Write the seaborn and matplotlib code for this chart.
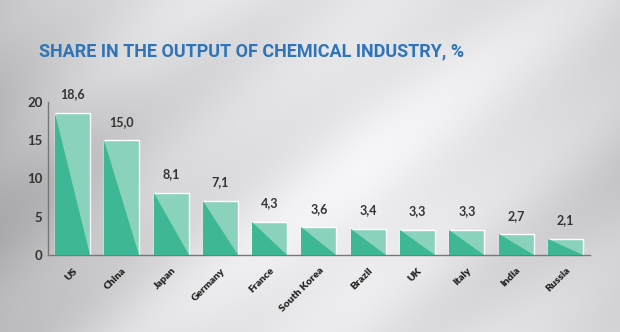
import numpy as np
import pandas as pd
import matplotlib
matplotlib.use("Agg")
import matplotlib.pyplot as plt
from matplotlib.patches import Polygon
import seaborn as sns

countries = ["US", "China", "Japan", "Germany", "France", "South Korea",
             "Brazil", "UK", "Italy", "India", "Russia"]
shares = [18.6, 15.0, 8.1, 7.1, 4.3, 3.6, 3.4, 3.3, 3.3, 2.7, 2.1]
yticks = [0, 5, 10, 15, 20]
title = "SHARE IN THE OUTPUT OF CHEMICAL INDUSTRY, %"

LIGHT = "#8bd2bc"
DARK = "#3db794"
BLUE = "#2f74b8"

sns.set_theme(style="white")
plt.rcParams["font.family"] = ["Lato", "DejaVu Sans"]

df = pd.DataFrame({"country": countries, "share": shares})

fig = plt.figure(figsize=(6.2, 3.32), dpi=100)

# background gradient with diagonal streaks
bg = fig.add_axes([0, 0, 1, 1], zorder=-10)
h, w = 332, 620
yy, xx = np.mgrid[0:h, 0:w]
xn = xx / w
yn = yy / h
base = 0.93 - 0.16 * np.clip(np.abs(xn - 0.58) / 0.58, 0, 1) ** 1.5
diag = (xn * 620 + yn * 332 * 1.3) / 620
streak = 0.03 * np.sin(diag * 8.0) + 0.018 * np.sin(diag * 21.0 + 1.0)
left_dark = 0.08 * np.clip((0.25 - xn) / 0.25, 0, 1) * np.exp(-((yn - 0.5) / 0.35) ** 2)
val = np.clip(base + streak - left_dark, 0, 1)
img = np.dstack([val * 0.99, val * 0.99, val * 1.0])
bg.imshow(img, aspect="auto", extent=[0, 1, 0, 1], origin="upper")
bg.axis("off")

ax = fig.add_axes([0.0774, 0.232, 0.8742, 0.461])
ax.set_facecolor("none")
sns.barplot(data=df, x="country", y="share", color=LIGHT, width=0.71,
            saturation=1, ax=ax, zorder=2)

for p in ax.patches:
    x0, y0 = p.get_x(), p.get_y()
    wd, ht = p.get_width(), p.get_height()
    tri = Polygon([(x0, y0 + ht), (x0, y0), (x0 + wd, y0)], closed=True,
                  facecolor=DARK, edgecolor="none", zorder=3)
    ax.add_patch(tri)

for i, v in enumerate(shares):
    ax.annotate(f"{v:.1f}".replace(".", ","), (i, v), xytext=(0, 9),
                textcoords="offset points", ha="center", va="bottom",
                fontsize=9, fontweight="bold", color="#333333")

ax.set_ylim(0, 20)
ax.set_xlim(-0.5, len(countries) - 0.5)
ax.set_yticks(yticks)
ax.set_yticklabels([str(t) for t in yticks], fontsize=9.5, fontweight="bold",
                   color="#333333")
ax.set_xticks(np.arange(len(countries) + 1) - 0.5, minor=True)
ax.set_xticks(np.arange(len(countries)))
ax.set_xticklabels(countries, rotation=45, ha="right", rotation_mode="anchor",
                   fontsize=7.5, fontweight="heavy", color="#222222")
ax.tick_params(axis="x", which="major", length=0, pad=8)
ax.tick_params(axis="x", which="minor", length=4, color="#777777", width=0.8,
               direction="in")
ax.tick_params(axis="y", length=5, color="#777777", width=0.8, pad=4,
               direction="in")
ax.set_xlabel("")
ax.set_ylabel("")
for s in ["top", "right"]:
    ax.spines[s].set_visible(False)
for s in ["left", "bottom"]:
    ax.spines[s].set_color("#777777")
    ax.spines[s].set_linewidth(1.0)

fig.text(0.063, 0.845, title, fontsize=13, fontweight="bold", color=BLUE,
         family=["Roboto", "DejaVu Sans"], va="center", ha="left")

fig.savefig("out.png", dpi=100)
